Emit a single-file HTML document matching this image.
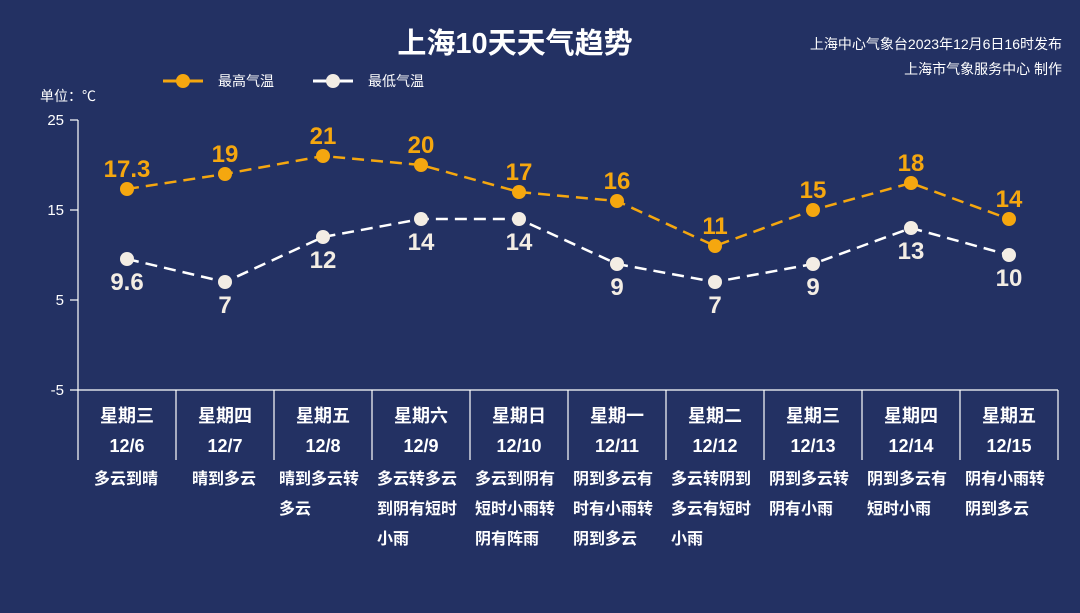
<!DOCTYPE html>
<html><head><meta charset="utf-8"><style>
body{margin:0;background:#233163;}
svg{display:block}
text{font-family:"Liberation Sans","Noto Sans CJK SC",sans-serif;}
</style></head><body>
<svg width="1080" height="613" viewBox="0 0 1080 613">
<rect width="1080" height="613" fill="#233163"/>
<text x="515" y="53" text-anchor="middle" font-size="29" font-weight="bold" fill="#fff">上海10天天气趋势</text>
<text x="1062" y="49" text-anchor="end" font-size="14" fill="#fff">上海中心气象台2023年12月6日16时发布</text>
<text x="1062" y="74" text-anchor="end" font-size="14" fill="#fff">上海市气象服务中心 制作</text>
<line x1="163" y1="81" x2="203" y2="81" stroke="#f5a70f" stroke-width="3"/><circle cx="183" cy="81" r="7" fill="#f5a70f"/>
<text x="218" y="86" font-size="14" fill="#fff">最高气温</text>
<line x1="313" y1="81" x2="353" y2="81" stroke="#fff" stroke-width="3"/><circle cx="333" cy="81" r="7" fill="#f3ede4"/>
<text x="368" y="86" font-size="14" fill="#fff">最低气温</text>
<text x="40" y="101" font-size="14" fill="#fff">单位：℃</text>
<g stroke="#fff" stroke-width="1.2">
<line x1="78" y1="120" x2="78" y2="460"/>
<line x1="70" y1="120" x2="78" y2="120"/><line x1="70" y1="210" x2="78" y2="210"/><line x1="70" y1="300" x2="78" y2="300"/><line x1="70" y1="390" x2="1058" y2="390"/>
<line x1="176" y1="390" x2="176" y2="460"/><line x1="274" y1="390" x2="274" y2="460"/><line x1="372" y1="390" x2="372" y2="460"/><line x1="470" y1="390" x2="470" y2="460"/><line x1="568" y1="390" x2="568" y2="460"/><line x1="666" y1="390" x2="666" y2="460"/><line x1="764" y1="390" x2="764" y2="460"/><line x1="862" y1="390" x2="862" y2="460"/><line x1="960" y1="390" x2="960" y2="460"/><line x1="1058" y1="390" x2="1058" y2="460"/>
</g>
<g font-size="15" fill="#fff" text-anchor="end">
<text x="64" y="125">25</text><text x="64" y="215">15</text><text x="64" y="305">5</text><text x="64" y="395">-5</text>
</g>
<polyline points="127,189 225,174 323,156 421,165 519,192 617,201 715,246 813,210 911,183 1009,219" fill="none" stroke="#f5a70f" stroke-width="2.5" stroke-dasharray="12,7"/>
<polyline points="127,259 225,282 323,237 421,219 519,219 617,264 715,282 813,264 911,228 1009,255" fill="none" stroke="#fff" stroke-width="2.5" stroke-dasharray="12,7"/>
<g fill="#f5a70f">
<circle cx="127" cy="189" r="7"/><circle cx="225" cy="174" r="7"/><circle cx="323" cy="156" r="7"/><circle cx="421" cy="165" r="7"/><circle cx="519" cy="192" r="7"/><circle cx="617" cy="201" r="7"/><circle cx="715" cy="246" r="7"/><circle cx="813" cy="210" r="7"/><circle cx="911" cy="183" r="7"/><circle cx="1009" cy="219" r="7"/>
</g>
<g fill="#f3ede4">
<circle cx="127" cy="259" r="7"/><circle cx="225" cy="282" r="7"/><circle cx="323" cy="237" r="7"/><circle cx="421" cy="219" r="7"/><circle cx="519" cy="219" r="7"/><circle cx="617" cy="264" r="7"/><circle cx="715" cy="282" r="7"/><circle cx="813" cy="264" r="7"/><circle cx="911" cy="228" r="7"/><circle cx="1009" cy="255" r="7"/>
</g>
<g font-size="24" font-weight="bold" fill="#f5a70f" text-anchor="middle">
<text x="127" y="177">17.3</text><text x="225" y="162">19</text><text x="323" y="144">21</text><text x="421" y="153">20</text><text x="519" y="180">17</text><text x="617" y="189">16</text><text x="715" y="234">11</text><text x="813" y="198">15</text><text x="911" y="171">18</text><text x="1009" y="207">14</text>
</g>
<g font-size="24" font-weight="bold" fill="#f3ede4" text-anchor="middle">
<text x="127" y="290">9.6</text><text x="225" y="313">7</text><text x="323" y="268">12</text><text x="421" y="250">14</text><text x="519" y="250">14</text><text x="617" y="295">9</text><text x="715" y="313">7</text><text x="813" y="295">9</text><text x="911" y="259">13</text><text x="1009" y="286">10</text>
</g>
<g font-size="18" font-weight="bold" fill="#fff" text-anchor="middle">
<text x="127" y="422">星期三</text><text x="225" y="422">星期四</text><text x="323" y="422">星期五</text><text x="421" y="422">星期六</text><text x="519" y="422">星期日</text><text x="617" y="422">星期一</text><text x="715" y="422">星期二</text><text x="813" y="422">星期三</text><text x="911" y="422">星期四</text><text x="1009" y="422">星期五</text>
<text x="127" y="452">12/6</text><text x="225" y="452">12/7</text><text x="323" y="452">12/8</text><text x="421" y="452">12/9</text><text x="519" y="452">12/10</text><text x="617" y="452">12/11</text><text x="715" y="452">12/12</text><text x="813" y="452">12/13</text><text x="911" y="452">12/14</text><text x="1009" y="452">12/15</text>
</g>
<g font-size="16" font-weight="bold" fill="#fff">
<text x="94" y="484">多云到晴</text>
<text x="192" y="484">晴到多云</text>
<text x="279" y="484">晴到多云转</text><text x="279" y="514">多云</text>
<text x="377" y="484">多云转多云</text><text x="377" y="514">到阴有短时</text><text x="377" y="544">小雨</text>
<text x="475" y="484">多云到阴有</text><text x="475" y="514">短时小雨转</text><text x="475" y="544">阴有阵雨</text>
<text x="573" y="484">阴到多云有</text><text x="573" y="514">时有小雨转</text><text x="573" y="544">阴到多云</text>
<text x="671" y="484">多云转阴到</text><text x="671" y="514">多云有短时</text><text x="671" y="544">小雨</text>
<text x="769" y="484">阴到多云转</text><text x="769" y="514">阴有小雨</text>
<text x="867" y="484">阴到多云有</text><text x="867" y="514">短时小雨</text>
<text x="965" y="484">阴有小雨转</text><text x="965" y="514">阴到多云</text>
</g>
</svg>
</body></html>
